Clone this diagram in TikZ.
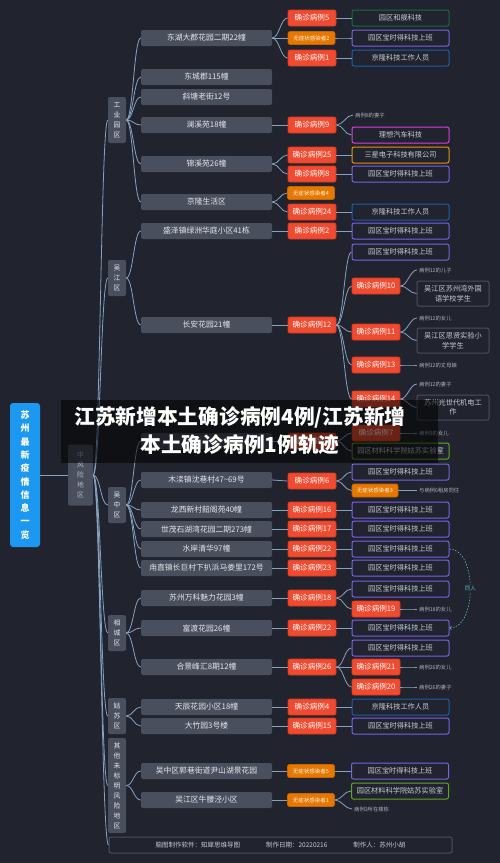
\documentclass[tikz,border=0pt]{standalone}
\usepackage{fontspec}
\setmainfont{Noto Sans CJK SC}
\usepackage{xcolor}
\usepackage{tikz}
\usetikzlibrary{positioning,arrows}

\definecolor{bgdark}{HTML}{21242E}
\definecolor{placegrey}{HTML}{4A4F5E}
\definecolor{caseRed}{HTML}{F04B30}
\definecolor{caseEdge}{HTML}{D63C22}
\definecolor{asymOrange}{HTML}{E67700}
\definecolor{twigblue}{HTML}{86A2C0}
\definecolor{rootblue}{HTML}{1C98F0}
\definecolor{violetedge}{HTML}{7B61E8}
\definecolor{blueedge}{HTML}{1B5FA6}
\definecolor{greenedge}{HTML}{1E6A3C}
\definecolor{limeedge}{HTML}{5FA81E}
\definecolor{magentaedge}{HTML}{E03CE0}
\definecolor{orangeedge}{HTML}{E8940A}
\definecolor{greyedge}{HTML}{4A4F5E}
\definecolor{tongcyan}{HTML}{5DB8CC}
\definecolor{softwhite}{HTML}{E4E6EA}
\definecolor{boxtext}{HTML}{C8CCD4}
\definecolor{notetext}{HTML}{AEB2BA}

\tikzset{
  rootbox/.style={fill=rootblue, rounded corners=3pt, minimum width=30pt, minimum height=144pt,
    inner sep=1pt, align=center, text=white, font=\fontsize{9}{13.3}\selectfont\bfseries},
  region/.style={fill=placegrey, rounded corners=2pt, minimum width=18pt, inner sep=1pt,
    align=center, text=softwhite, font=\fontsize{6.8}{10}\selectfont},
  place/.style={fill=placegrey, rounded corners=2pt, minimum width=131pt, minimum height=16pt,
    inner sep=1pt, text=softwhite, font=\fontsize{7.8}{9}\selectfont},
  case/.style={fill=caseRed, draw=caseEdge, line width=0.8pt, rounded corners=2pt,
    minimum width=48pt, minimum height=16pt, inner sep=1pt, text=white, font=\fontsize{7.6}{9}\selectfont},
  asym/.style={fill=asymOrange, draw=asymOrange!85!black, line width=0.6pt, rounded corners=2pt,
    minimum width=47pt, minimum height=13pt, inner sep=1pt, text=white!92!orange, font=\fontsize{5.5}{6}\selectfont},
  work/.style={draw=#1, fill=bgdark, line width=1pt, rounded corners=2pt, minimum width=97pt,
    minimum height=16pt, inner sep=1pt, text=boxtext, font=\fontsize{7.2}{9}\selectfont},
  kidbox/.style={draw=greyedge, fill=bgdark, line width=1pt, rounded corners=2pt, minimum width=72pt,
    minimum height=25pt, inner sep=1pt, align=center, text=boxtext, font=\fontsize{7.2}{9.5}\selectfont},
  note/.style={anchor=west, inner sep=2pt, text=notetext, font=\fontsize{5.3}{6}\selectfont},
  credit/.style={draw=greyedge, fill=bgdark, line width=1pt, rounded corners=2pt, minimum width=343pt,
    minimum height=16pt, inner sep=1pt, text=boxtext, font=\fontsize{6.5}{8}\selectfont},
  twigline/.style={draw=twigblue, line width=0.8pt},
  tongline/.style={draw=tongcyan, line width=0.6pt, dash pattern=on 1.5pt off 1.5pt},
  tonglabel/.style={fill=bgdark, inner sep=1pt, text=tongcyan, font=\fontsize{5.5}{6}\selectfont},
  titletext/.style={text=white, align=center, font=\fontsize{20.7}{28}\selectfont\bfseries}
}

\newcommand{\twig}[2]{\draw[twigline] (#1.east) .. controls +(7,0) and +(-7,0) .. (#2.west);}
\newcommand{\twigs}[2]{\foreach \nm in {#2} {\twig{#1}{\nm}}}

\begin{document}
\begin{tikzpicture}[x=1pt,y=-1pt]
% canvas
\fill[bgdark] (0,0) rectangle (500,863);
\useasboundingbox (0,0) rectangle (500,863);

% root and risk level
\node[rootbox] (root) at (25,475) {苏\\州\\最\\新\\疫\\情\\信\\息\\一\\览};
\node[region, minimum width=25pt, minimum height=61pt, text=softwhite!70!placegrey] (mid) at (80.5,475) {中\\风\\险\\地\\区};

% districts
\node[region, minimum height=46pt] (gyyq) at (117,120) {工\\业\\园\\区};
\node[region, minimum height=36pt] (wj) at (117,278) {吴\\江\\区};
\node[region, minimum height=36pt] (wz) at (117,505) {吴\\中\\区};
\node[region, minimum height=36pt] (xc) at (117,633) {相\\城\\区};
\node[region, minimum height=36pt] (gs) at (117,716) {姑\\苏\\区};
\node[region, minimum height=95pt] (qt) at (117,785.5) {其\\他\\未\\标\\明\\风\\险\\地\\区};
\node[credit] (footer) at (280.5,845) {脑图制作软件：知犀思维导图\hspace{26pt}制作日期：20220216\hspace{26pt}制作人：苏州小胡};

% places
\node[place] (p1) at (206.5,38) {东湖大郡花园二期22幢};
\node[place] (p2) at (206.5,77) {东城郡115幢};
\node[place] (p3) at (206.5,97) {斜塘老街12号};
\node[place] (p4) at (206.5,125) {澜溪苑18幢};
\node[place] (p5) at (206.5,164) {锦溪苑26幢};
\node[place] (p6) at (206.5,202) {京隆生活区};
\node[place] (p7) at (206.5,231) {盛泽镇绿洲华庭小区41栋};
\node[place] (p8) at (206.5,325) {长安花园21幢};
\node[place] (p9) at (206.5,441) {};
\node[place] (p10) at (206.5,480) {木渎镇沈巷村47\textasciitilde69号};
\node[place] (p11) at (206.5,510) {龙西新村韶阁苑40幢};
\node[place] (p12) at (206.5,529) {世茂石湖湾花园二期273幢};
\node[place] (p13) at (206.5,549) {水岸清华97幢};
\node[place] (p14) at (206.5,568) {甪直镇长巨村下扒浜马娄里172号};
\node[place] (p15) at (206.5,598) {苏州万科魅力花园3幢};
\node[place] (p16) at (206.5,628) {富渡花园26幢};
\node[place] (p17) at (206.5,667) {合景峰汇8期12幢};
\node[place] (p18) at (206.5,707) {天辰花园小区18幢};
\node[place] (p19) at (206.5,726) {大竹园3号楼};
\node[place] (p20) at (206.5,771) {吴中区郭巷街道尹山湖景花园};
\node[place] (p21) at (206.5,800) {吴江区牛腰泾小区};

% cases
\node[case] (c5) at (312,18) {确诊病例5};
\node[asym] (a2) at (311.5,38) {无症状感染者2};
\node[case] (c1) at (312,58) {确诊病例1};
\node[case] (c9) at (312,125) {确诊病例9};
\node[case] (c25) at (312,155) {确诊病例25};
\node[case] (c8) at (312,174) {确诊病例8};
\node[asym] (a4) at (311,193) {无症状感染者4};
\node[case] (c24) at (312,212) {确诊病例24};
\node[case] (c2) at (312,231) {确诊病例2};
\node[case] (c12) at (312,325) {确诊病例12};
\node[case] (c3) at (312,441) {确诊病例3};
\node[case] (c6) at (312,481) {确诊病例6};
\node[case] (c16) at (312,510) {确诊病例16};
\node[case] (c17) at (312,529) {确诊病例17};
\node[case] (c22a) at (312,549) {确诊病例22};
\node[case] (c23) at (312,568) {确诊病例23};
\node[case] (c18) at (312,598) {确诊病例18};
\node[case] (c22b) at (312,628) {确诊病例22};
\node[case] (c26) at (312,667) {确诊病例26};
\node[case] (c4) at (312,707) {确诊病例4};
\node[case] (c15) at (312,726) {确诊病例15};
\node[asym] (a5) at (311,771) {无症状感染者5};
\node[asym] (a1) at (311,800) {无症状感染者1};

% workplaces and relations
\node[work=greenedge] (w5) at (400.5,18) {园区和舰科技};
\node[work=violetedge] (wa2) at (400.5,38) {园区宝时得科技上班};
\node[work=blueedge] (w1) at (400.5,58) {京隆科技工作人员};
\node[note] (n9) at (353,115) {病例8的妻子};
\node[work=magentaedge] (w9) at (400.5,135) {理想汽车科技};
\node[work=orangeedge] (w25) at (400.5,155) {三星电子科技有限公司};
\node[work=violetedge] (w8) at (400.5,174) {园区宝时得科技上班};
\node[work=blueedge] (w24) at (400.5,212) {京隆科技工作人员};
\node[work=violetedge] (w2) at (400.5,231) {园区宝时得科技上班};
\node[work=violetedge] (w12) at (400.5,252) {园区宝时得科技上班};
\node[case] (c10) at (376,286) {确诊病例10};
\node[case] (c11) at (376,332) {确诊病例11};
\node[case] (c13) at (376,365) {确诊病例13};
\node[case] (c14) at (376,399) {确诊病例14};
\node[case] (c7) at (376,433) {确诊病例7};
\node[work=limeedge] (w3) at (400.5,451) {园区材料科学院姑苏实验室};
\node[note] (n10) at (417,270) {病例12的儿子};
\node[kidbox] (w10) at (453,293.5) {吴江区苏州湾外国\\语学校学生};
\node[note] (n11) at (417,318) {病例12的女儿};
\node[kidbox] (w11) at (453,340.5) {吴江区思贤实验小\\学学生};
\node[note] (n13) at (417,365) {病例12的丈母娘};
\node[note] (n14) at (417,384) {病例12的妻子};
\node[kidbox] (w14) at (453,407.5) {苏州光世代机电工\\作};
\node[note] (n7) at (417,433) {病例3的女儿};
\node[work=violetedge] (w6) at (400.5,472) {园区宝时得科技上班};
\node[asym, minimum width=46pt] (a3) at (375,490.5) {无症状感染者3};
\node[note] (na3) at (417,490.5) {与病例6租房同住};
\node[work=violetedge] (w16) at (400.5,510) {园区宝时得科技上班};
\node[work=violetedge] (w17) at (400.5,529) {园区宝时得科技上班};
\node[work=violetedge] (w22a) at (400.5,549) {园区宝时得科技上班};
\node[work=violetedge] (w23) at (400.5,568) {园区宝时得科技上班};
\node[work=violetedge] (w18) at (400.5,589) {园区宝时得科技上班};
\node[case] (c19) at (376,609) {确诊病例19};
\node[note] (n19) at (417,609) {病例18的女儿};
\node[work=violetedge] (w22b) at (400.5,628) {园区宝时得科技上班};
\node[work=violetedge] (w26) at (400.5,648) {园区宝时得科技上班};
\node[case] (c21) at (376,667) {确诊病例21};
\node[note] (n21) at (417,667) {病例26的女儿};
\node[case] (c20) at (376,687) {确诊病例20};
\node[note] (n20) at (417,687) {病例26的妻子};
\node[work=blueedge] (w4) at (400.5,707) {京隆科技工作人员};
\node[work=violetedge] (w15) at (400.5,726) {园区宝时得科技上班};
\node[work=violetedge] (wa5) at (400,771) {园区宝时得科技上班};
\node[work=limeedge] (wa1) at (400,791) {园区材料科学院姑苏实验室};
\node[note] (na1) at (352,809) {病例3所在楼栋};

% edges
\draw[twigline] (root.east) -- (mid.west);
\twigs{mid}{gyyq,wj,wz,xc,gs,qt,footer}
\twigs{gyyq}{p1,p2,p3,p4,p5,p6}
\twigs{wj}{p7,p8}
\twigs{wz}{p9,p10,p11,p12,p13,p14}
\twigs{xc}{p15,p16,p17}
\twigs{gs}{p18,p19}
\twigs{qt}{p20,p21}
\twigs{p1}{c5,a2,c1}
\twig{p4}{c9}
\twigs{p5}{c25,c8}
\twigs{p6}{a4,c24}
\twig{p7}{c2}
\twig{p8}{c12}
\twig{p9}{c3}
\twig{p10}{c6}
\twig{p11}{c16}
\twig{p12}{c17}
\twig{p13}{c22a}
\twig{p14}{c23}
\twig{p15}{c18}
\twig{p16}{c22b}
\twig{p17}{c26}
\twig{p18}{c4}
\twig{p19}{c15}
\twig{p20}{a5}
\twig{p21}{a1}
\twig{c5}{w5}
\twig{a2}{wa2}
\twig{c1}{w1}
\twigs{c9}{n9,w9}
\twig{c25}{w25}
\twig{c8}{w8}
\twig{c24}{w24}
\twig{c2}{w2}
\twigs{c12}{w12,c10,c11,c13,c14}
\twigs{c3}{c7,w3}
\twigs{c10}{n10,w10}
\twigs{c11}{n11,w11}
\twig{c13}{n13}
\twigs{c14}{n14,w14}
\twig{c7}{n7}
\twigs{c6}{w6,a3}
\twig{a3}{na3}
\twig{c16}{w16}
\twig{c17}{w17}
\twig{c22a}{w22a}
\twig{c23}{w23}
\twigs{c18}{w18,c19}
\twig{c19}{n19}
\twig{c22b}{w22b}
\twigs{c26}{w26,c21,c20}
\twig{c21}{n21}
\twig{c20}{n20}
\twig{c4}{w4}
\twig{c15}{w15}
\twig{a5}{wa5}
\twigs{a1}{wa1,na1}

% same person link
\draw[tongline, ->] (w22a.east) to[out=0, in=0, looseness=0.9] node[tonglabel] {同人} (w22b.east);

% headline overlay
\fill[black, opacity=0.55] (61,400) rectangle (438,463);
\node[titletext] (headline) at (240,431) {江苏新增本土确诊病例4例/江苏新增\\本土确诊病例1例轨迹};
\end{tikzpicture}
\end{document}
